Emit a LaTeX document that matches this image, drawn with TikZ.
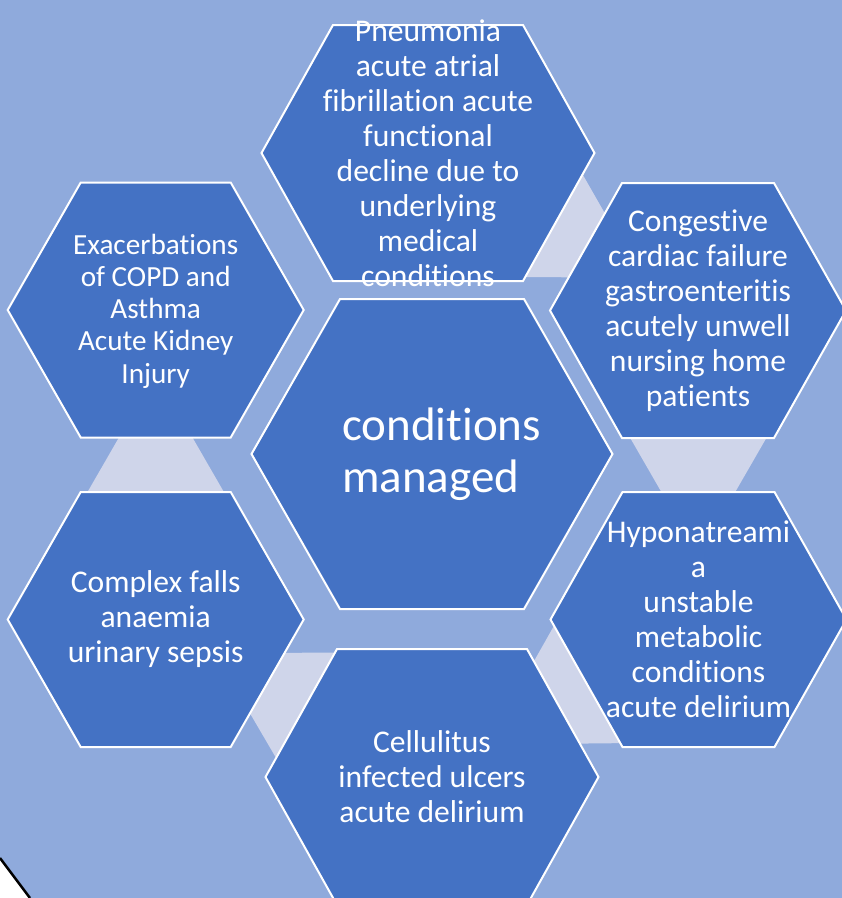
\documentclass[tikz,border=0pt]{standalone}
\usepackage{fontspec}
\setmainfont{Carlito}[Ligatures=NoCommon]
\usetikzlibrary{positioning}

\definecolor{bgblue}{HTML}{8FAADC}
\definecolor{hexblue}{HTML}{4472C4}
\definecolor{linkgrey}{HTML}{CFD5EA}

% hexagon: centre x, centre y, half width, half top edge, half height
\newcommand\drawhex[5]{%
  \draw[hexcell, shift={(#1,#2)}] (-#3,0) -- (-#4,-#5) -- (#4,-#5)
    -- (#3,0) -- (#4,#5) -- (-#4,#5) -- cycle;}

\begin{document}
\begin{tikzpicture}[
  x=1pt, y=-1pt,
  hexcell/.style={fill=hexblue, draw=white, line width=2pt},
  link/.style={fill=linkgrey},
  cell text/.style={text=white, align=center, inner sep=0pt,
    font=\fontsize{31.6}{35}\selectfont}]

  \useasboundingbox (0,0) rectangle (842,898);
  \fill[white] (0,0) rectangle (842,898);
  \fill[bgblue] (0,0) -- (842,0) -- (842,898) -- (30,898) -- (0,858) -- cycle;
  \draw[line width=2.5pt] (0,858) -- (30,898);

  % links between the outer cells
  \fill[link] (467.3,276.7) -- (555.1,126.3) -- (623.8,246.5) -- (605.8,277.5) -- cycle;
  \fill[link] (611.2,405) -- (785.4,405) -- (716.2,525) -- (680.4,525) -- cycle;
  \fill[link] (572.6,592.8) -- (661.2,742.7) -- (522.7,744.2) -- (504.5,713.4) -- cycle;
  \fill[link] (389.1,652.3) -- (302.8,803.7) -- (232.9,684.1) -- (250.6,653.0) -- cycle;
  \fill[link] (242.8,524.8) -- (68.6,524.8) -- (137.8,404.8) -- (173.6,404.8) -- cycle;

  % cells
  \drawhex{428}{153}{166.5}{95}{128}
  \drawhex{698}{310.5}{148}{76}{127.5}
  \drawhex{698.5}{619.5}{148}{76}{127.5}
  \drawhex{432}{777}{166.5}{95}{128}
  \drawhex{155.7}{619.5}{148}{75}{127.5}
  \drawhex{155.7}{310}{148}{75}{127.5}
  \drawhex{432}{454}{180.5}{92}{155}

  \node[cell text] (pneumonia) at (428,153)
    {Pneumonia\\acute atrial\\fibrillation acute\\functional\\decline due to\\underlying\\medical\\conditions};
  \node[cell text] (cardiac) at (698,310.5)
    {Congestive\\cardiac failure\\gastroenteritis\\acutely unwell\\nursing home\\patients};
  \node[cell text] (metabolic) at (698.5,619.5)
    {Hyponatreami\\a\\unstable\\metabolic\\conditions\\acute delirium};
  \node[cell text] (cellulitus) at (432,777)
    {Cellulitus\\infected ulcers\\acute delirium};
  \node[cell text] (falls) at (155.7,619.5)
    {Complex falls\\anaemia\\urinary sepsis};
  \node[cell text, font=\fontsize{29.2}{32.3}\selectfont] (copd) at (155.7,311)
    {Exacerbations\\of COPD and\\Asthma\\Acute Kidney\\Injury};
  \node[cell text, align=left, anchor=west, font=\fontsize{47}{52}\selectfont]
    (core) at (342,454) {conditions\\managed};
\end{tikzpicture}
\end{document}
